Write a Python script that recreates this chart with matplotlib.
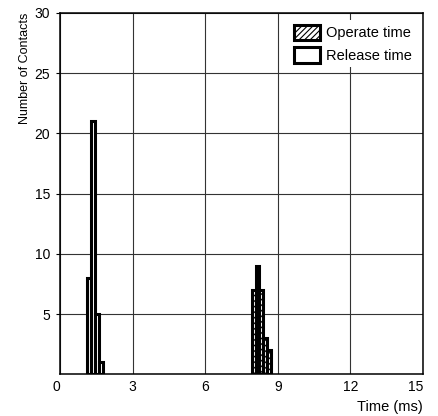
import matplotlib
matplotlib.use("Agg")
import matplotlib.pyplot as plt
from matplotlib.patches import Patch

plt.rcParams["font.family"] = ["Liberation Sans", "DejaVu Sans"]
plt.rcParams["hatch.linewidth"] = 0.8
plt.rcParams["hatch.color"] = "black"

# data (time in ms, count of contacts)
release_time = [1.20, 1.36, 1.52, 1.68]
release_count = [8, 21, 5, 1]

operate_time = [8.00, 8.16, 8.32, 8.48, 8.64]
operate_count = [7, 9, 7, 3, 2]

x_ticks = [0, 3, 6, 9, 12, 15]
y_ticks = [5, 10, 15, 20, 25, 30]

BAR_W = 0.16
EDGE_LW = 2.2

fig = plt.figure(figsize=(4.38, 4.16), dpi=100)
ax = fig.add_axes([0.137, 0.10, 0.829, 0.869])

ax.bar(operate_time, operate_count, width=BAR_W, facecolor="white",
       edgecolor="black", linewidth=EDGE_LW, hatch="//////", zorder=3)
ax.bar(release_time, release_count, width=BAR_W, facecolor="white",
       edgecolor="black", linewidth=EDGE_LW, zorder=3)

ax.set_xlim(0, 15)
ax.set_ylim(0, 30)
ax.set_xticks(x_ticks)
ax.set_yticks(y_ticks)
ax.grid(True, color="#333333", linewidth=0.8)
ax.set_axisbelow(True)
for s in ax.spines.values():
    s.set_linewidth(1.1)

ax.tick_params(axis="x", length=0, pad=4, labelsize=10)
ax.tick_params(axis="y", length=3, width=0.8, pad=4, labelsize=10)
xl = ax.get_xticklabels()
xl[0].set_ha("right")
xl[-1].set_ha("right")

ax.set_xlabel("Time (ms)", loc="right", fontsize=10.5, labelpad=4)
ax.set_ylabel("Number of Contacts", loc="top", fontsize=9)
ax.yaxis.set_label_coords(-0.08, 1.0)

handles = [
    Patch(facecolor="white", edgecolor="black", linewidth=EDGE_LW, hatch="//////",
          label="Operate time"),
    Patch(facecolor="white", edgecolor="black", linewidth=EDGE_LW,
          label="Release time"),
]
leg = ax.legend(handles=handles, loc="upper right", fontsize=10.5, frameon=True,
                fancybox=False, handlelength=1.75, handleheight=1.3,
                handletextpad=0.4, labelspacing=0.45, borderpad=0.3,
                borderaxespad=0.5)
leg.get_frame().set_edgecolor("none")
leg.get_frame().set_facecolor("white")
leg.get_frame().set_alpha(1)
leg.set_zorder(5)

fig.savefig("out.png", dpi=100)
